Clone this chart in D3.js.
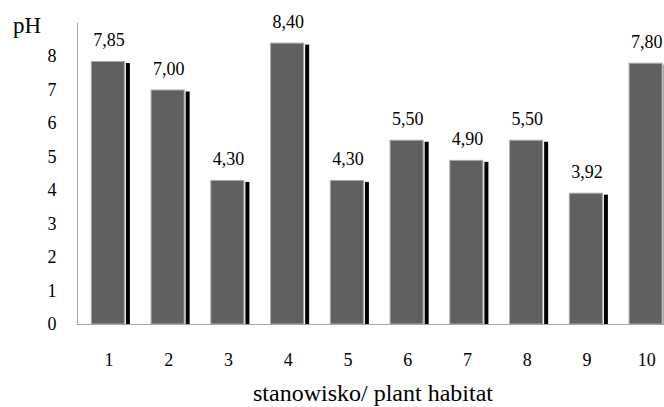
<!DOCTYPE html>
<html>
<head>
<meta charset="utf-8">
<script src="https://cdn.jsdelivr.net/npm/d3@7/dist/d3.min.js"></script>
<style>
  html, body { margin: 0; padding: 0; background: #fff; }
  svg { display: block; }
  text { font-family: "Times New Roman", "Liberation Serif", "DejaVu Serif", serif; fill: #000; }
</style>
</head>
<body>
<svg id="chart" width="664" height="407"></svg>
<script>
// Sampling sites and their measured pH
const sites = ["1", "2", "3", "4", "5", "6", "7", "8", "9", "10"];
const phValues = [7.85, 7.00, 4.30, 8.40, 4.30, 5.50, 4.90, 5.50, 3.92, 7.80];
const yTicks = [0, 1, 2, 3, 4, 5, 6, 7, 8];
const yLabel = "pH";
const xLabel = "stanowisko/ plant habitat";

const svg = d3.select("#chart");
const plotLeft = 78, plotBottom = 324, plotTop = 22.5;
const step = 59.75;

const x = d3.scaleBand()
  .domain(sites)
  .range([plotLeft, plotLeft + step * sites.length])
  .paddingInner(0.43)
  .paddingOuter(0.215);

const y = d3.scaleLinear().domain([0, 9]).range([plotBottom, plotTop]);

const fmt = v => d3.format(".2f")(v).replace(".", ",");

// axis lines
svg.append("line")
  .attr("x1", plotLeft - 0.5).attr("x2", plotLeft - 0.5)
  .attr("y1", plotTop).attr("y2", plotBottom)
  .attr("stroke", "#a6a6a6").attr("stroke-width", 1);
svg.append("line")
  .attr("x1", plotLeft - 1).attr("x2", 664)
  .attr("y1", plotBottom + 0.5).attr("y2", plotBottom + 0.5)
  .attr("stroke", "#a6a6a6").attr("stroke-width", 1);

// y tick labels
svg.append("g").selectAll("text")
  .data(yTicks).join("text")
  .attr("x", 52).attr("y", d => y(d))
  .attr("dy", "0.36em")
  .attr("text-anchor", "middle")
  .attr("font-size", 18)
  .text(d => d);

// bar shadows
const g = svg.append("g");
g.selectAll("rect.shadow")
  .data(phValues).join("rect")
  .attr("class", "shadow")
  .attr("x", (d, i) => x(sites[i]) + x.bandwidth() + 1)
  .attr("y", d => y(d) + 2)
  .attr("width", 4)
  .attr("height", d => plotBottom - y(d) - 2)
  .attr("fill", "#000");

// bars
g.selectAll("rect.bar")
  .data(phValues).join("rect")
  .attr("class", "bar")
  .attr("x", (d, i) => x(sites[i]) + 0.5)
  .attr("y", d => y(d) + 0.5)
  .attr("width", x.bandwidth() - 1)
  .attr("height", d => plotBottom - y(d) - 0.5)
  .attr("fill", "#606060")
  .attr("stroke", "#a8a8a8")
  .attr("stroke-width", 1);

// value labels
g.selectAll("text.val")
  .data(phValues).join("text")
  .attr("class", "val")
  .attr("x", (d, i) => x(sites[i]) + x.bandwidth() / 2 + 1)
  .attr("y", d => y(d) - 15)
  .attr("text-anchor", "middle")
  .attr("font-size", 18)
  .text(d => fmt(d));

// x tick labels
svg.append("g").selectAll("text")
  .data(sites).join("text")
  .attr("x", d => x(d) + x.bandwidth() / 2 + 1)
  .attr("y", 360).attr("dy", "0.36em")
  .attr("text-anchor", "middle")
  .attr("font-size", 18)
  .text(d => d);

// axis titles
svg.append("text")
  .attr("x", 27).attr("y", 33)
  .attr("text-anchor", "middle")
  .attr("font-size", 23)
  .text(yLabel);
svg.append("text")
  .attr("x", 373).attr("y", 401)
  .attr("text-anchor", "middle")
  .attr("font-size", 24)
  .text(xLabel);
</script>
</body>
</html>
